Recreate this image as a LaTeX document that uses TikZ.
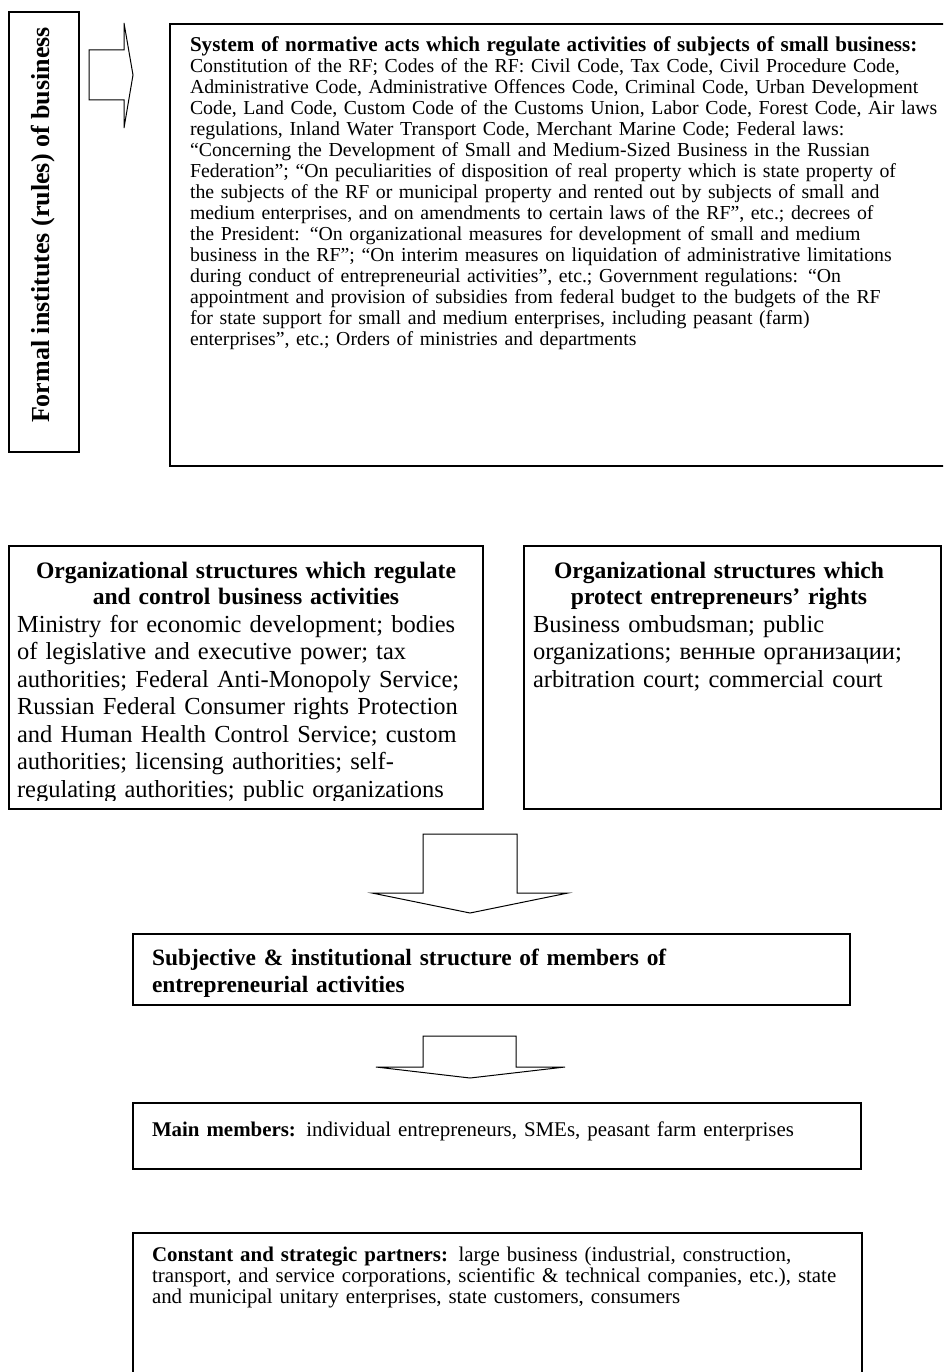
\documentclass[tikz,border=0pt]{standalone}
\usepackage{fontspec}
\setmainfont{Liberation Serif}
\begin{document}
\begin{tikzpicture}[x=1pt,y=-1pt,
  box/.style={draw, line width=1.2pt, inner sep=0pt, outer sep=0pt, anchor=north west},
  blockarrow/.style={draw, line width=1pt, fill=white, line join=miter},
  txt/.style={inner sep=0pt, outer sep=0pt, anchor=base west, align=left, text width=820pt},
  ctxt/.style={inner sep=0pt, outer sep=0pt, anchor=base, align=center},
  smallfont/.style={font=\fontsize{20.9}{21}\selectfont},
  normfont/.style={font=\fontsize{19.8}{21}\selectfont},
  midfont/.style={font=\fontsize{24.5}{27.5}\selectfont},
  midbold/.style={font=\bfseries\fontsize{23.6}{26.5}\selectfont},
]
\useasboundingbox (0,0) rectangle (943,1372);
\clip (0,0) rectangle (943,1372);

% vertical label box
\node[box, minimum width=70pt, minimum height=440pt] (formal) at (9,12) {};
\node[rotate=90, inner sep=0pt, font=\bfseries\fontsize{26}{30}\selectfont] (formaltxt) at (43,225) {Formal institutes (rules) of business};

% right block arrow
\draw[blockarrow] (89,50) -- (124,50) -- (124,23) -- (133,75) -- (124,128) -- (124,100) -- (89,100) -- cycle;

% normative acts box
\node[box, minimum width=780pt, minimum height=442pt] (norm) at (170,24) {};
\node[txt, normfont] (normtxt) at (190,52) {{\bfseries\fontsize{21.1}{21}\selectfont System of normative acts which regulate activities of subjects of small business:}\\
Constitution of the RF; Codes of the RF: Civil Code, Tax Code, Civil Procedure Code,\\
Administrative Code, Administrative Offences Code, Criminal Code, Urban Development\\
Code, Land Code, Custom Code of the Customs Union, Labor Code, Forest Code, Air laws\\
regulations, Inland Water Transport Code, Merchant Marine Code; Federal laws:\\
“Concerning the Development of Small and Medium-Sized Business in the Russian\\
Federation”; “On peculiarities of disposition of real property which is state property of\\
the subjects of the RF or municipal property and rented out by subjects of small and\\
medium enterprises, and on amendments to certain laws of the RF”, etc.; decrees of\\
the President: “On organizational measures for development of small and medium\\
business in the RF”; “On interim measures on liquidation of administrative limitations\\
during conduct of entrepreneurial activities”, etc.; Government regulations: “On\\
appointment and provision of subsidies from federal budget to the budgets of the RF\\
for state support for small and medium enterprises, including peasant (farm)\\
enterprises”, etc.; Orders of ministries and departments};

% regulating structures box
\node[box, minimum width=474pt, minimum height=263pt] (regul) at (9,546) {};
\node[ctxt, midbold, text width=474pt] (regultitle) at (246,578) {Organizational structures which regulate\\and control business activities};
\begin{scope}
\clip (9,546) rectangle (483,800);
\node[txt, midfont] (regulbody) at (17,632) {Ministry for economic development; bodies\\
of legislative and executive power; tax\\
authorities; Federal Anti-Monopoly Service;\\
Russian Federal Consumer rights Protection\\
and Human Health Control Service; custom\\
authorities; licensing authorities; self-\\
regulating authorities; public organizations};
\end{scope}

% protecting structures box
\node[box, minimum width=417pt, minimum height=263pt] (protect) at (524,546) {};
\node[ctxt, midbold, text width=400pt] (protecttitle) at (719,578) {Organizational structures which\\protect entrepreneurs’ rights};
\node[txt, midfont] (protectbody) at (533,632) {Business ombudsman; public\\
organizations; венные организации;\\
arbitration court; commercial court};

% down arrow 1
\draw[blockarrow] (423,834) -- (517,834) -- (517,893) -- (568,893) -- (470,913) -- (372,893) -- (423,893) -- cycle;

% subjective structure box
\node[box, minimum width=717pt, minimum height=71pt] (subj) at (133,934) {};
\node[txt, font=\bfseries\fontsize{23.4}{27}\selectfont] (subjtxt) at (152,965) {Subjective \& institutional structure of members of\\entrepreneurial activities};

% down arrow 2
\draw[blockarrow] (423,1036) -- (516,1036) -- (516,1067) -- (565,1067) -- (470,1078) -- (376,1067) -- (423,1067) -- cycle;

% main members box
\node[box, minimum width=728pt, minimum height=66pt] (main) at (133,1103) {};
\node[txt, smallfont] (maintxt) at (152,1136) {\textbf{Main members:} individual entrepreneurs, SMEs, peasant farm enterprises};

% partners box
\node[box, minimum width=729pt, minimum height=170pt] (partners) at (133,1233) {};
\node[txt, smallfont] (partnerstxt) at (152,1261) {\textbf{Constant and strategic partners:} large business (industrial, construction,\\
transport, and service corporations, scientific \& technical companies, etc.), state\\
and municipal unitary enterprises, state customers, consumers};
\end{tikzpicture}
\end{document}
